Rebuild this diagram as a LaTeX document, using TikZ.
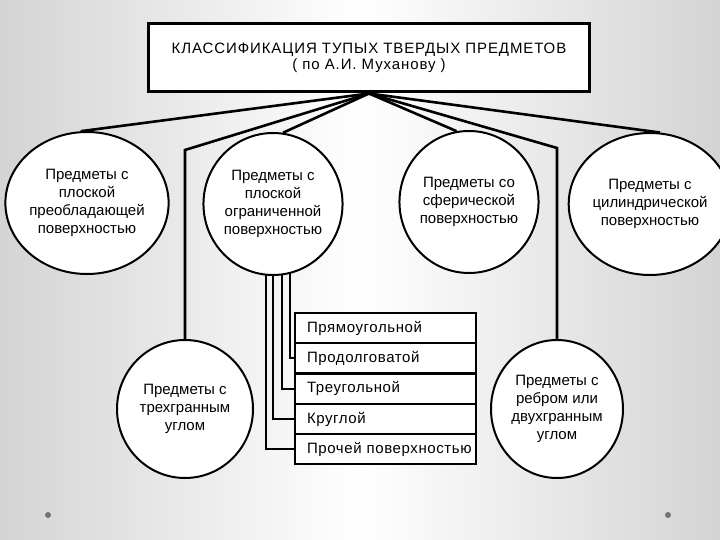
\documentclass[tikz,border=0pt]{standalone}
\usepackage{fontspec}
\setmainfont{Liberation Sans}
\newfontfamily\titlefont{Liberation Sans}[LetterSpace=6]
\newfontfamily\itemfont{Liberation Sans}[LetterSpace=4]
\usetikzlibrary{shapes.geometric,calc}
\pgfdeclarelayer{bg}
\pgfdeclarelayer{background}
\pgfsetlayers{bg,background,main}
\tikzset{
  circ/.style={ellipse, draw, line width=2pt, fill=white, align=center,
    font=\fontsize{15}{18}\selectfont, inner sep=0pt},
  itembox/.style={rectangle, draw, line width=2pt, fill=white, minimum width=181pt,
    minimum height=30pt, text width=175pt, align=left, inner sep=0pt,
    execute at begin node={\hspace*{9pt}},
    font=\itemfont\fontsize{15}{18}\selectfont},
  mainline/.style={line width=2.6pt},
  subline/.style={line width=2pt},
}
\begin{document}
\begin{tikzpicture}[x=1pt,y=-1pt]
\begin{pgfonlayer}{bg}
  \shade[left color=black!17, right color=black!17, middle color=white] (0,0) rectangle (720,540);
  \fill[black!55] (48,515) circle (3);
  \fill[black!55] (668,515) circle (3);
\end{pgfonlayer}
\useasboundingbox (0,0) rectangle (720,540);

\node[draw, line width=3pt, fill=white, minimum width=441pt, minimum height=68pt, align=center,
  font=\titlefont\fontsize{15}{16}\selectfont] (title) at (369,58)
  {КЛАССИФИКАЦИЯ ТУПЫХ ТВЕРДЫХ ПРЕДМЕТОВ\\( по А.И. Муханову )};

\node[circ, minimum width=143pt, minimum height=142pt] (c1) at (87,203)
  {Предметы с\\плоской\\преобладающей\\поверхностью};
\node[circ, minimum width=132pt, minimum height=142pt] (c2) at (273,204)
  {Предметы с\\плоской\\ограниченной\\поверхностью};
\node[circ, minimum width=132pt, minimum height=142pt] (c3) at (469,202)
  {Предметы со\\сферической\\поверхностью};
\node[circ, minimum width=136pt, minimum height=142pt] (c4) at (650,204)
  {Предметы с\\цилиндрической\\поверхностью};
\node[circ, minimum width=136pt, minimum height=138pt] (c5) at (185,409)
  {Предметы с\\трехгранным\\углом};
\node[circ, minimum width=132pt, minimum height=138pt] (c6) at (557,409)
  {Предметы с\\ребром или\\двухгранным\\углом};

\node[itembox] (b1) at (385.5,328) {Прямоугольной};
\node[itembox] (b2) at (385.5,358) {Продолговатой};
\node[itembox] (b3) at (385.5,388.5) {Треугольной};
\node[itembox] (b4) at (385.5,419) {Круглой};
\node[itembox] (b5) at (385.5,449) {\mbox{Прочей поверхностью}};

\coordinate (apex) at (title.south);
\coordinate (kl) at (185,150);
\coordinate (kr) at (557,148);

\begin{pgfonlayer}{background}
  \draw[mainline] (apex) -- (c1.95);
  \draw[mainline] (apex) -- (c2.82);
  \draw[mainline] (apex) -- (c3.100);
  \draw[mainline] (apex) -- (c4.82);
  \draw[mainline] (apex) -- (kl) -- (c5.north);
  \draw[mainline] (apex) -- (kr) -- (c6.north);
  \draw[subline] ($(c2.center)+(17,0)$) |- (b2.west);
  \draw[subline] ($(c2.center)+(9,0)$) |- (b3.west);
  \draw[subline] ($(c2.center)+(0,0)$) |- (b4.west);
  \draw[subline] ($(c2.center)+(-7,0)$) |- (b5.west);
\end{pgfonlayer}
\end{tikzpicture}
\end{document}
